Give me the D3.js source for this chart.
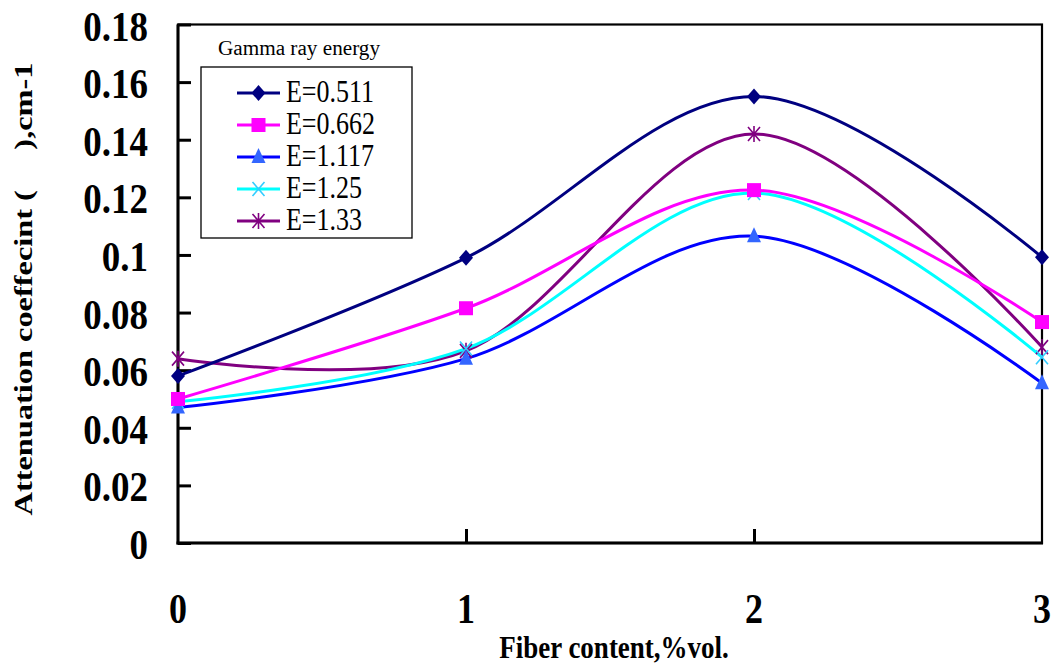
<!DOCTYPE html>
<html><head><meta charset="utf-8">
<script src="https://cdn.jsdelivr.net/npm/d3@7"></script>
<style>body{margin:0;background:#fff}svg{display:block}
.sf{font-family:"Liberation Serif","Times New Roman",Times,serif}</style>
</head><body>
<svg id="c" width="1054" height="666"></svg>
<script>
const xValues = [0, 1, 2, 3];
const seriesNames = ["E=0.511", "E=0.662", "E=1.117", "E=1.25", "E=1.33"];
const e0511 = [0.058, 0.099, 0.155, 0.0992];
const e0662 = [0.050, 0.0815, 0.1225, 0.0767];
const e1117 = [0.047, 0.064, 0.1065, 0.0555];
const e125  = [0.049, 0.0675, 0.1215, 0.0645];
const e133  = [0.064, 0.0667, 0.142, 0.068];
const yTicks = [0, 0.02, 0.04, 0.06, 0.08, 0.1, 0.12, 0.14, 0.16, 0.18];
const yTickLabels = ["0", "0.02", "0.04", "0.06", "0.08", "0.1", "0.12", "0.14", "0.16", "0.18"];
const xTickLabels = ["0", "1", "2", "3"];

const seriesData = [e0511, e0662, e1117, e125, e133];
const lineColors = ["#000080", "#ff00ff", "#0000ff", "#00ffff", "#800080"];
const markerColors = ["#000080", "#ff00ff", "#3366ff", "#33ccff", "#800080"];
const markerTypes = ["diamond", "square", "triangle", "x", "star"];

const svg = d3.select("#c");
const L = 178, R = 1042, T = 24.5, B = 543;
const x = d3.scaleLinear().domain([0, 3]).range([L, R]);
const y = d3.scaleLinear().domain([0, 0.18]).range([B, T]);

// frame
svg.append("rect").attr("x", L).attr("y", T).attr("width", R - L).attr("height", B - T)
  .attr("fill", "none").attr("stroke", "#000").attr("stroke-width", 2.2);
svg.append("line").attr("x1", L).attr("x2", L).attr("y1", T).attr("y2", B + 1.5).attr("stroke", "#000").attr("stroke-width", 3);
svg.append("line").attr("x1", L - 1.5).attr("x2", R + 1).attr("y1", B).attr("y2", B).attr("stroke", "#000").attr("stroke-width", 3);

// y axis ticks (inside)
const yAxis = d3.axisRight(y).tickValues(yTicks).tickSize(13).tickFormat("");
const gy = svg.append("g").attr("transform", `translate(${L},0)`).call(yAxis);
gy.select(".domain").remove();
gy.selectAll(".tick line").attr("stroke", "#000").attr("stroke-width", 3);
// x axis ticks (inside, up)
const xAxis = d3.axisTop(x).tickValues([1, 2]).tickSize(14).tickFormat("");
const gx = svg.append("g").attr("transform", `translate(0,${B})`).call(xAxis);
gx.select(".domain").remove();
gx.selectAll(".tick line").attr("stroke", "#000").attr("stroke-width", 3);

// y tick labels
yTicks.forEach((v, i) => {
  svg.append("text").attr("class", "sf").attr("transform", `translate(148,${y(v) + 16}) scale(1,1.15)`)
    .attr("text-anchor", "end").attr("font-weight", "bold")
    .attr("font-size", 37).attr("fill", "#000").text(yTickLabels[i]);
});
// x tick labels
xValues.forEach((v, i) => {
  svg.append("text").attr("class", "sf").attr("transform", `translate(${x(v)},623) scale(1,1.15)`)
    .attr("text-anchor", "middle").attr("font-weight", "bold")
    .attr("font-size", 36).attr("fill", "#000").text(xTickLabels[i]);
});
// axis titles
svg.append("text").attr("class", "sf").attr("transform", `translate(614,658) scale(1,1.17)`)
  .attr("text-anchor", "middle").attr("font-weight", "bold")
  .attr("font-size", 27).attr("fill", "#000").text("Fiber content,%vol.");
svg.append("text").attr("class", "sf").attr("transform", `translate(32,289) rotate(-90)`)
  .attr("text-anchor", "middle").attr("font-weight", "bold")
  .attr("font-size", 25).attr("fill", "#000")
  .attr("textLength", 453).attr("lengthAdjust", "spacingAndGlyphs")
  .text("Attenuation coeffecint (\u00a0\u00a0\u00a0\u00a0\u00a0),cm-1");

// lines
const line = d3.line().x((d, i) => x(xValues[i])).y(d => y(d)).curve(d3.curveCatmullRom.alpha(0));
const order = [4, 3, 2, 1, 0];
order.forEach(s => {
  svg.append("path").datum(seriesData[s]).attr("d", line)
    .attr("fill", "none").attr("stroke", lineColors[s]).attr("stroke-width", 3);
});

function marker(g, type, cx, cy, col) {
  if (type === "diamond") {
    g.append("path").attr("d", `M${cx},${cy - 8}L${cx + 7},${cy}L${cx},${cy + 8}L${cx - 7},${cy}Z`).attr("fill", col);
  } else if (type === "square") {
    g.append("rect").attr("x", cx - 7).attr("y", cy - 7).attr("width", 14).attr("height", 14).attr("fill", col);
  } else if (type === "triangle") {
    g.append("path").attr("d", `M${cx},${cy - 9}L${cx + 7},${cy + 6}L${cx - 7},${cy + 6}Z`).attr("fill", col);
  } else if (type === "x") {
    g.append("path").attr("d", `M${cx - 6},${cy - 7}L${cx + 6},${cy + 7}M${cx + 6},${cy - 7}L${cx - 6},${cy + 7}`)
      .attr("stroke", col).attr("stroke-width", 1.6).attr("fill", "none");
  } else {
    g.append("path").attr("d", `M${cx - 6},${cy - 7}L${cx + 6},${cy + 7}M${cx + 6},${cy - 7}L${cx - 6},${cy + 7}M${cx},${cy - 8}L${cx},${cy + 8}`)
      .attr("stroke", col).attr("stroke-width", 1.6).attr("fill", "none");
  }
}
const mg = svg.append("g");
order.forEach(s => {
  seriesData[s].forEach((v, i) => marker(mg, markerTypes[s], x(xValues[i]), y(v), markerColors[s]));
});

// legend
const lg = svg.append("g");
lg.append("text").attr("class", "sf").attr("transform", "translate(218,55) scale(1,1.08)")
  .attr("font-weight", "normal").attr("font-size", 20).attr("fill", "#000")
  .attr("textLength", 162).attr("lengthAdjust", "spacingAndGlyphs").text("Gamma ray energy");
lg.append("rect").attr("x", 201).attr("y", 67).attr("width", 211).attr("height", 171)
  .attr("fill", "#fff").attr("stroke", "#000").attr("stroke-width", 1.3);
seriesNames.forEach((n, i) => {
  const ry = 93 + i * 32;
  lg.append("line").attr("x1", 237).attr("x2", 280).attr("y1", ry).attr("y2", ry)
    .attr("stroke", lineColors[i]).attr("stroke-width", 3);
  marker(lg, markerTypes[i], 258.5, ry, markerColors[i]);
  lg.append("text").attr("class", "sf").attr("transform", `translate(286,${ry + 9}) scale(1,1.2)`)
    .attr("font-weight", "normal").attr("font-size", 26).attr("fill", "#000").text(n);
});
</script>
</body></html>
